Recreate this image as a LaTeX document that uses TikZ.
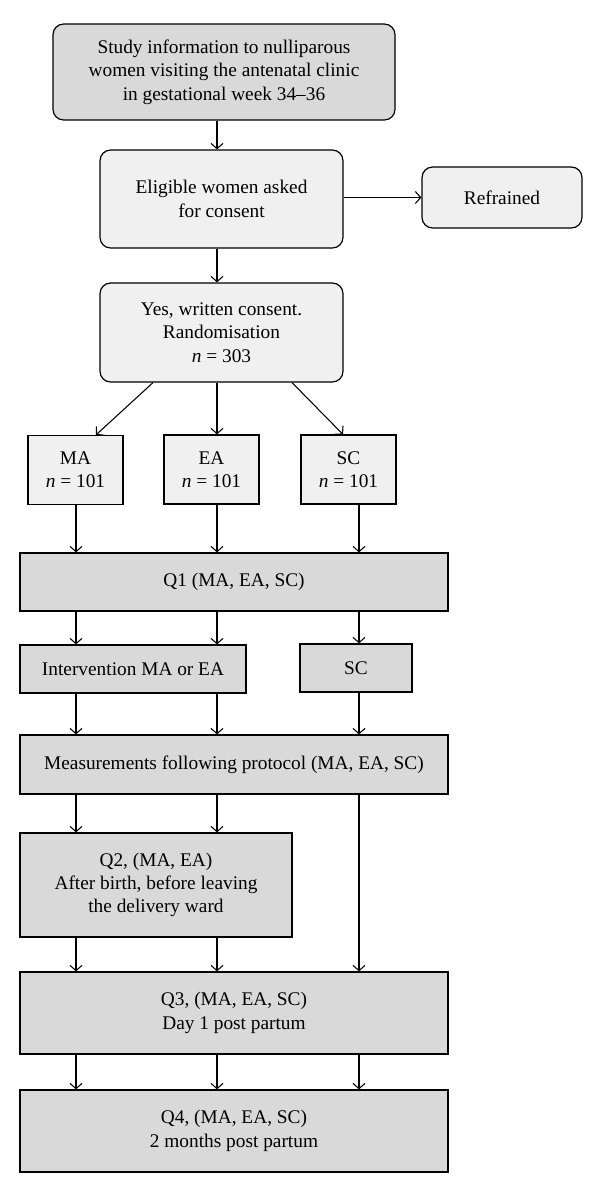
\documentclass[tikz,border=0pt]{standalone}
\usepackage{fontspec}
\setmainfont{Liberation Serif}
\usepackage{tikz}
\usetikzlibrary{positioning,calc,arrows.meta}

\definecolor{darkbox}{RGB}{217,217,217}
\definecolor{lightbox}{RGB}{240,240,240}

\tikzset{
  box/.style={draw, line width=0.9pt, align=center, inner sep=0pt,
    font=\fontsize{14.5}{17.5}\selectfont},
  roundbox/.style={box, rounded corners=8pt},
  arr/.style={-{Straight Barb[length=4pt,width=9pt]}, line width=0.8pt}
}

\begin{document}
\begin{tikzpicture}[x=0.75pt,y=0.75pt,yscale=-1,xscale=1]
%set diagram left start at 0, and has height of 1193
\useasboundingbox (0,0) rectangle (600,1193);

% columns of the three groups
\coordinate (c1) at (76,0);
\coordinate (c2) at (217,0);
\coordinate (c3) at (359,0);

%Shape: Rounded Rectangle
\node [roundbox, fill=darkbox, minimum width=256.5pt, minimum height=72pt] (info) at (224,72)
  {Study information to nulliparous\\women visiting the antenatal clinic\\in gestational week 34--36};
%Shape: Rounded Rectangle
\node [roundbox, fill=lightbox, minimum width=182.25pt, minimum height=73.5pt] (consent) at (221.5,199)
  {Eligible women asked\\for consent};
%Shape: Rounded Rectangle
\node [roundbox, fill=lightbox, minimum width=120pt, minimum height=45.75pt] (refrained) at (502,197.5)
  {Refrained};
%Shape: Rounded Rectangle
\node [roundbox, fill=lightbox, minimum width=182.25pt, minimum height=74.25pt] (random) at (221.5,332.5)
  {Yes, written consent.\\Randomisation\\\textit{n} = 303};

%Shape: Rectangle
\node [box, fill=lightbox, minimum width=71.25pt, minimum height=51.75pt] (ma) at (75.5,470)
  {MA\\\textit{n} = 101};
%Shape: Rectangle
\node [box, fill=lightbox, minimum width=71.25pt, minimum height=51.75pt] (ea) at (211.5,469.5)
  {EA\\\textit{n} = 101};
%Shape: Rectangle
\node [box, fill=lightbox, minimum width=71.25pt, minimum height=51.75pt] (sc) at (348.5,469.5)
  {SC\\\textit{n} = 101};

%Shape: Rectangle
\node [box, fill=darkbox, minimum width=321pt, minimum height=43.5pt] (q1) at (234,582)
  {Q1 (MA, EA, SC)};
%Shape: Rectangle
\node [box, fill=darkbox, minimum width=169.5pt, minimum height=36pt] (interv) at (133,669)
  {Intervention MA or EA};
%Shape: Rectangle
\node [box, fill=darkbox, minimum width=84pt, minimum height=36pt] (scare) at (356,668)
  {SC};
%Shape: Rectangle
\node [box, fill=darkbox, minimum width=321pt, minimum height=44.25pt] (meas) at (234,764.5)
  {Measurements following protocol (MA, EA, SC)};
%Shape: Rectangle
\node [box, fill=darkbox, minimum width=204pt, minimum height=78pt] (q2) at (156,885)
  {Q2, (MA, EA)\\After birth, before leaving\\the delivery ward};
%Shape: Rectangle
\node [box, fill=darkbox, minimum width=321pt, minimum height=61.5pt] (q3) at (234,1013)
  {Q3, (MA, EA, SC)\\Day 1 post partum};
%Shape: Rectangle
\node [box, fill=darkbox, minimum width=321pt, minimum height=61.5pt] (q4) at (234,1131)
  {Q4, (MA, EA, SC)\\2 months post partum};

% Connectors
\draw [arr] (info.south -| c2) -- (consent.north -| c2);
\draw [arr] (consent.east |- refrained.west) -- (refrained.west);
\draw [arr] (consent.south -| c2) -- (random.north -| c2);

\draw [arr] ($(random.south)+(-68.5,0)$) -- ($(ma.north)+(20.5,0)$);
\draw [arr] (random.south -| c2) -- (ea.north -| c2);
\draw [arr] ($(random.south)+(70.5,0)$) -- ($(sc.north)+(-5.5,0)$);

\draw [arr] (ma.south -| c1) -- (q1.north -| c1);
\draw [arr] (ea.south -| c2) -- (q1.north -| c2);
\draw [arr] (sc.south -| c3) -- (q1.north -| c3);

\draw [arr] (q1.south -| c1) -- (interv.north -| c1);
\draw [arr] (q1.south -| c2) -- (interv.north -| c2);
\draw [arr] (q1.south -| c3) -- (scare.north -| c3);

\draw [arr] (interv.south -| c1) -- (meas.north -| c1);
\draw [arr] (interv.south -| c2) -- (meas.north -| c2);
\draw [arr] (scare.south -| c3) -- (meas.north -| c3);

\draw [arr] (meas.south -| c1) -- (q2.north -| c1);
\draw [arr] (meas.south -| c2) -- (q2.north -| c2);
\draw [arr] (meas.south -| c3) -- (q3.north -| c3);

\draw [arr] (q2.south -| c1) -- (q3.north -| c1);
\draw [arr] (q2.south -| c2) -- (q3.north -| c2);

\draw [arr] (q3.south -| c1) -- (q4.north -| c1);
\draw [arr] (q3.south -| c2) -- (q4.north -| c2);
\draw [arr] (q3.south -| c3) -- (q4.north -| c3);

\end{tikzpicture}
\end{document}
